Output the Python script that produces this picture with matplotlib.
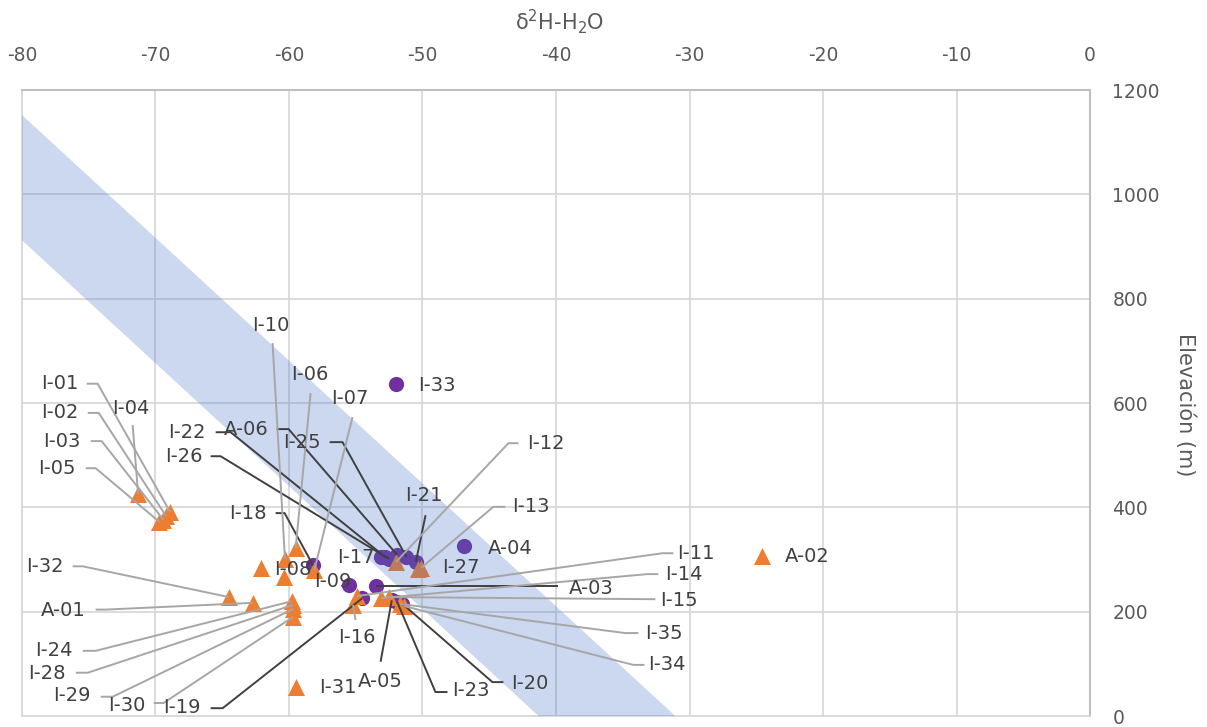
import matplotlib
matplotlib.use("Agg")
import matplotlib.pyplot as plt

plt.rcParams['font.family'] = ['DejaVu Sans']
plt.rcParams['mathtext.default'] = 'regular'
plt.rcParams['axes.unicode_minus'] = False

# ---------------- data ----------------
purple_names = ["I-33", "A-04", "I-17", "I-22", "I-26", "A-06", "I-25", "I-21",
                "I-18", "A-03", "I-09", "I-19", "A-05", "I-23", "I-20"]
purple_d2h = [-52.0, -46.9, -53.1, -52.8, -52.5, -51.9, -51.2, -50.5,
              -58.2, -53.5, -55.5, -54.5, -52.3, -51.9, -51.5]
purple_elev = [636, 326, 305, 305, 301, 309, 305, 295,
               289, 249, 251, 226, 222, 219, 215]

orange_names = ["I-01", "I-02", "I-03", "I-05", "I-04", "I-06", "I-10", "I-08", "",
                "I-07", "I-32", "A-01", "I-24", "I-28", "I-29", "I-30", "I-31",
                "I-16", "I-11", "I-14", "I-15", "I-35", "I-34", "I-12", "I-13",
                "I-27", "A-02"]
orange_d2h = [-68.9, -69.2, -69.4, -69.7, -71.3, -59.5, -60.3, -62.1, -60.4,
              -58.1, -64.5, -62.7, -59.8, -59.7, -59.7, -59.7, -59.5,
              -55.2, -54.9, -53.1, -52.5, -51.7, -51.4, -52.0, -50.1,
              -50.3, -24.6]
orange_elev = [391, 383, 376, 372, 425, 322, 301, 284, 266,
               280, 228, 217, 220, 213, 205, 190, 56,
               213, 230, 226, 228, 215, 211, 295, 284,
               282, 307]

# band (two parallel edges): elevation at d2H = -80 and d2H where elevation = 0
band_upper = [(-80, 1152), (-31.06, 0)]
band_lower = [(-80, 912), (-41.3, 0)]

x_ticks = [-80, -70, -60, -50, -40, -30, -20, -10, 0]
y_ticks = [0, 200, 400, 600, 800, 1000, 1200]

# label layout: name -> (text x, text y, ha, leader start points)
labels = {
    "I-01": (-75.75, 637, "right", [(-75.15, 637), (-74.33, 637)]),
    "I-02": (-75.75, 581, "right", [(-75.07, 581), (-74.25, 581)]),
    "I-03": (-75.60, 527, "right", [(-74.85, 527), (-74.03, 527)]),
    "I-05": (-75.97, 475, "right", [(-75.22, 475), (-74.48, 475)]),
    "I-04": (-71.86, 590, "center", [(-71.71, 558)]),
    "I-10": (-61.38, 748, "center", [(-61.23, 715)]),
    "I-06": (-58.46, 655, "center", [(-58.38, 619)]),
    "I-07": (-55.46, 608, "center", [(-55.24, 573)]),
    "I-22": (-66.24, 544, "right", [(-65.49, 544), (-64.37, 544)]),
    "A-06": (-61.53, 550, "right", [(-60.93, 550), (-60.03, 550)]),
    "I-26": (-66.47, 498, "right", [(-65.87, 498), (-65.12, 498)]),
    "I-25": (-57.63, 525, "right", [(-56.96, 525), (-55.99, 525)]),
    "I-18": (-61.68, 389, "right", [(-61.00, 389), (-60.33, 389)]),
    "I-12": (-42.14, 523, "left", [(-42.81, 523), (-43.56, 523)]),
    "I-21": (-49.92, 422, "center", [(-49.77, 385)]),
    "I-13": (-43.26, 401, "left", [(-43.79, 401), (-44.69, 401)]),
    "A-04": (-45.13, 322, "left", []),
    "I-33": (-50.30, 633, "left", []),
    "I-17": (-53.59, 303, "right", []),
    "I-27": (-48.50, 284, "left", []),
    "A-02": (-22.83, 305, "left", []),
    "I-11": (-30.91, 312, "left", [(-31.21, 312), (-32.04, 312)]),
    "I-14": (-31.81, 271, "left", [(-32.34, 272), (-33.16, 272)]),
    "A-03": (-39.07, 244, "left", [(-39.82, 249)]),
    "I-15": (-32.19, 222, "left", [(-32.56, 224), (-33.08, 224)]),
    "I-35": (-33.31, 159, "left", [(-33.83, 159), (-34.81, 159)]),
    "I-34": (-33.08, 99, "left", [(-33.38, 98), (-34.21, 98)]),
    "I-20": (-43.34, 62, "left", [(-43.94, 65), (-44.76, 65)]),
    "I-23": (-47.75, 48, "left", [(-48.13, 46), (-49.03, 46)]),
    "A-05": (-53.14, 67, "center", [(-53.14, 104)]),
    "I-16": (-54.94, 150, "center", [(-55.01, 184)]),
    "I-19": (-66.62, 17, "right", [(-65.87, 15), (-64.97, 15)]),
    "I-31": (-57.78, 54, "left", []),
    "I-32": (-76.87, 286, "right", [(-76.20, 287), (-75.45, 287)]),
    "A-01": (-75.22, 203, "right", [(-74.48, 204), (-73.73, 204)]),
    "I-24": (-76.20, 125, "right", [(-75.45, 125), (-74.48, 125)]),
    "I-28": (-76.72, 82, "right", [(-75.97, 83), (-75.07, 83)]),
    "I-29": (-74.85, 40, "right", [(-74.10, 37), (-73.20, 37)]),
    "I-30": (-70.73, 21, "right", [(-70.13, 25), (-69.39, 25)]),
    "I-08": (-59.75, 280, "center", []),
    "I-09": (-56.75, 257, "center", []),
}

# ---------------- figure ----------------
fig = plt.figure(figsize=(12.07, 7.27), dpi=100)
ax = fig.add_axes([0.0182, 0.0151, 0.9031 - 0.0182, 0.8762 - 0.0151])

ax.set_xlim(-80, 0)
ax.set_ylim(0, 1200)
ax.set_xticks(x_ticks)
ax.set_yticks(y_ticks)
ax.xaxis.tick_top()
ax.yaxis.tick_right()
ax.tick_params(axis='both', length=0, labelsize=13.5, labelcolor='#595959')
ax.tick_params(axis='x', pad=18)
ax.tick_params(axis='y', pad=16)
ax.grid(True, color='#d9d9d9', lw=1.3)
ax.set_axisbelow(True)
for side in ['left', 'bottom']:
    ax.spines[side].set_color('#d9d9d9')
    ax.spines[side].set_linewidth(1.3)
for side in ['top', 'right']:
    ax.spines[side].set_color('#bfbfbf')
    ax.spines[side].set_linewidth(1.5)

# points
ax.scatter(purple_d2h, purple_elev, s=120, marker='o', color='#7030a0', lw=0, zorder=2)
ax.scatter(orange_d2h, orange_elev, s=150, marker='^', color='#ed7d31', lw=0, zorder=2)

# band
poly_x = [band_upper[0][0], band_upper[1][0], band_lower[1][0], band_lower[0][0]]
poly_y = [band_upper[0][1], band_upper[1][1], band_lower[1][1], band_lower[0][1]]
ax.fill(poly_x, poly_y, color='#4472c4', alpha=0.27, lw=0, zorder=3)

# labels + leaders
def draw_labels(names, xs, ys, lcolor):
    for n, x, y in zip(names, xs, ys):
        if n not in labels:
            continue
        tx, ty, ha, pts = labels[n]
        ax.text(tx, ty, n, ha=ha, va='center', fontsize=14, color='#404040',
                zorder=5, clip_on=False)
        if pts:
            lx = [p[0] for p in pts] + [x]
            ly = [p[1] for p in pts] + [y]
            ax.plot(lx, ly, color=lcolor, lw=1.4, zorder=4, clip_on=False,
                    solid_capstyle='butt')

draw_labels(purple_names, purple_d2h, purple_elev, '#404040')
draw_labels(orange_names, orange_d2h, orange_elev, '#a6a6a6')

fig.text(560 / 1207, 1 - 22 / 727, r'δ$^{2}$H-H$_{2}$O', ha='center', va='center',
         fontsize=15, color='#595959')
fig.text(1185 / 1207, 1 - 405 / 727, 'Elevación (m)', rotation=-90, ha='center',
         va='center', fontsize=15, color='#595959')

fig.savefig('out.png', dpi=100)
